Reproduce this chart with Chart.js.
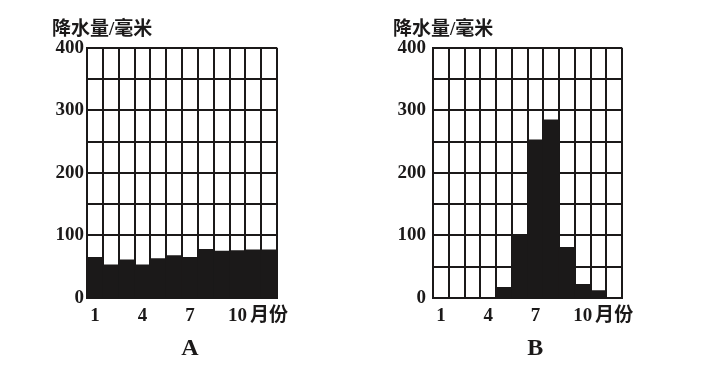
<!DOCTYPE html>
<html>
<head>
<meta charset="utf-8">
<script src="https://cdn.jsdelivr.net/npm/chart.js@4/dist/chart.umd.min.js"></script>
<style>
  html, body { margin: 0; padding: 0; background: #fff; }
  .wrap { position: relative; width: 704px; height: 381px; }
  canvas { position: absolute; top: 0; }
</style>
</head>
<body>
<div class="wrap">
  <canvas id="chartA" width="352" height="381" style="left:0"></canvas>
  <canvas id="chartB" width="352" height="381" style="left:352px"></canvas>
</div>
<script>
const months = ['1', '2', '3', '4', '5', '6', '7', '8', '9', '10', '11', '12'];
const shownMonths = ['1', '4', '7', '10'];
const unitLabel = '月份';
const yTickLabels = [0, 100, 200, 300, 400];
const rainA = [65, 53, 61, 53, 63, 68, 65, 78, 75, 76, 77, 77];
const rainB = [0, 0, 0, 0, 17, 100, 253, 285, 81, 22, 12, 0];
const yTitle = '降水量/毫米';
const panelNames = ['A', 'B'];

const ink = '#1b1919';
const fontFamily = '"Liberation Serif", "Noto Sans CJK SC", serif';

// draws the panel letter under the middle month
const panelLetter = {
  id: 'panelLetter',
  afterDraw(chart, args, opts) {
    const x = chart.scales.x.getPixelForValue(6);
    const c = chart.ctx;
    c.save();
    c.font = 'bold 24px ' + fontFamily;
    c.fillStyle = ink;
    c.textAlign = 'center';
    c.textBaseline = 'middle';
    c.fillText(opts.text, x, opts.y);
    c.restore();
  }
};

function makeChart(id, values, name, geo) {
  const ctx = document.getElementById(id).getContext('2d');
  return new Chart(ctx, {
    type: 'bar',
    data: {
      labels: months,
      datasets: [{
        data: values,
        backgroundColor: ink,
        borderWidth: 0,
        barPercentage: 1,
        categoryPercentage: 1
      }]
    },
    plugins: [panelLetter],
    options: {
      responsive: false,
      animation: false,
      layout: {
        padding: { left: geo.padLeft, right: geo.padRight, top: 19, bottom: 50 }
      },
      plugins: {
        legend: { display: false },
        tooltip: { enabled: false },
        title: {
          display: true,
          text: yTitle,
          align: 'start',
          color: ink,
          font: { family: fontFamily, size: 19, weight: 'bold' },
          padding: { top: 0, bottom: 6 }
        },
        panelLetter: { text: name, y: 349 }
      },
      scales: {
        x: {
          offset: true,
          grid: { offset: true, color: ink, lineWidth: 2, drawTicks: false },
          border: { color: ink, width: 2 },
          afterFit: (scale) => { scale.height = 33; },
          ticks: {
            autoSkip: false,
            maxRotation: 0,
            padding: 7,
            color: ink,
            font: { family: fontFamily, size: 19, weight: 'bold' },
            callback: function (value, index) {
              const m = months[index];
              if (index === months.length - 1) return unitLabel;
              return shownMonths.includes(m) ? m : '';
            }
          }
        },
        y: {
          min: 0,
          max: 400,
          grid: { color: ink, lineWidth: 2, drawTicks: false },
          border: { color: ink, width: 2 },
          afterFit: (scale) => { scale.width = geo.axisWidth; },
          ticks: {
            stepSize: 50,
            padding: geo.tickPad,
            color: ink,
            font: { family: fontFamily, size: 19, weight: 'bold' },
            callback: (v) => yTickLabels.includes(v) ? v : ''
          }
        }
      }
    }
  });
}

makeChart('chartA', rainA, panelNames[0], { padLeft: 52, padRight: 75, axisWidth: 35, tickPad: 3 });
makeChart('chartB', rainB, panelNames[1], { padLeft: 41, padRight: 82, axisWidth: 40, tickPad: 7 });
</script>
</body>
</html>
